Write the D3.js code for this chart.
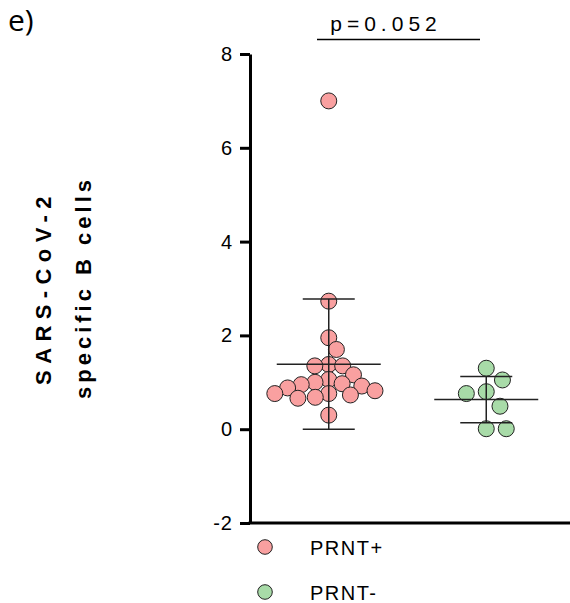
<!DOCTYPE html>
<html>
<head>
<meta charset="utf-8">
<script src="https://cdn.jsdelivr.net/npm/d3@7"></script>
<style>
  html, body { margin: 0; padding: 0; background: #fff; }
  svg { display: block; }
  text { font-family: "Liberation Sans", Arial, sans-serif; fill: #000; }
</style>
</head>
<body>
<svg id="chart" width="570" height="603"></svg>
<script>
// Groups and per-subject values (SARS-CoV-2 specific B cells)
const groups = ["PRNT+", "PRNT-"];
const prntPos = [7.0, 2.73, 1.95, 1.70, 1.38, 1.35, 1.35, 1.16, 1.06, 1.00, 0.97,
                 0.95, 0.92, 0.88, 0.82, 0.76, 0.76, 0.73, 0.68, 0.66, 0.30];
const prntNeg = [1.30, 1.05, 0.80, 0.76, 0.49, 0.01, 0.01];
const groupValues = [prntPos, prntNeg];
const groupColors = ["#f9a0a0", "#a8dba8"];
const yTicks = [-2, 0, 2, 4, 6, 8];
const yTitle = ["SARS-CoV-2", "specific B cells"];
const pValueText = "p=0.052";
const panelLabel = "e)";

const svg = d3.select("#chart");
const W = 570, H = 603;

const y = d3.scaleLinear().domain([-2, 8]).range([523, 54]);
const x = d3.scalePoint().domain(groups).range([250, 565]).padding(0.5);
const axisX = 250;

// Panel letter
svg.append("text")
  .attr("x", 8).attr("y", 31)
  .style("font-family", "'Open Sans', 'Noto Sans', sans-serif")
  .style("font-size", "30px")
  .text(panelLabel);

// Y axis title (two rotated lines)
const titleG = svg.append("g");
titleG.append("text")
  .attr("transform", `translate(51,${y(3) - 1}) rotate(-90)`)
  .attr("text-anchor", "middle")
  .style("font-weight", "bold").style("font-size", "22px")
  .style("letter-spacing", "6.4px")
  .text(yTitle[0]);
titleG.append("text")
  .attr("transform", `translate(91,${y(3) - 1}) rotate(-90)`)
  .attr("text-anchor", "middle")
  .style("font-weight", "bold").style("font-size", "22px")
  .style("letter-spacing", "4px")
  .text(yTitle[1]);

// Greedy beeswarm: place each point at the offset nearest the column centre
// that does not collide with points already placed.
function swarm(values, collide) {
  const pts = values.map((v, i) => ({ v, i, py: y(v), dx: 0 }))
    .sort((a, b) => b.v - a.v);
  const placed = [];
  for (const p of pts) {
    const near = placed.filter(q => Math.abs(q.py - p.py) < collide);
    const cands = [0];
    near.forEach(q => {
      const r = Math.sqrt(collide * collide - (q.py - p.py) ** 2);
      cands.push(q.dx - r, q.dx + r);
    });
    cands.sort((a, b) => Math.abs(a) - Math.abs(b) || b - a);
    for (const c of cands) {
      const ok = near.every(q => {
        const r = Math.sqrt(collide * collide - (q.py - p.py) ** 2);
        return Math.abs(c - q.dx) >= r - 1e-6;
      });
      if (ok) { p.dx = c; break; }
    }
    placed.push(p);
  }
  return pts;
}

const R = 8;
groupValues.forEach((vals, gi) => {
  const cx = x(groups[gi]);
  const pts = swarm(vals, gi === 0 ? 14 : 20);
  svg.append("g").selectAll("circle")
    .data(pts).join("circle")
    .attr("cx", d => cx + d.dx)
    .attr("cy", d => d.py)
    .attr("r", R)
    .attr("fill", groupColors[gi])
    .attr("stroke", "#222")
    .attr("stroke-width", 1);
});

// Mean ± SD bars, drawn over the points
groupValues.forEach((vals, gi) => {
  const cx = x(groups[gi]);
  const m = d3.mean(vals), sd = d3.deviation(vals);
  const g = svg.append("g").attr("stroke", "#222").attr("stroke-width", 1.5);
  g.append("line").attr("x1", cx - 52).attr("x2", cx + 52).attr("y1", y(m)).attr("y2", y(m));
  g.append("line").attr("x1", cx).attr("x2", cx).attr("y1", y(m - sd)).attr("y2", y(m + sd));
  g.append("line").attr("x1", cx - 26).attr("x2", cx + 26).attr("y1", y(m + sd)).attr("y2", y(m + sd));
  g.append("line").attr("x1", cx - 26).attr("x2", cx + 26).attr("y1", y(m - sd)).attr("y2", y(m - sd));
});

// Y axis
const yAxis = d3.axisLeft(y).tickValues(yTicks).tickFormat(d => String(d))
  .tickSize(10).tickSizeOuter(0).tickPadding(7);
const ag = svg.append("g").attr("transform", `translate(${axisX},0)`).call(yAxis);
ag.select(".domain").attr("stroke", "#000").attr("stroke-width", 3);
ag.selectAll(".tick line").attr("stroke", "#000").attr("stroke-width", 3);
ag.selectAll(".tick text")
  .style("font-family", "'Liberation Sans', Arial, sans-serif")
  .style("font-size", "20px")
  .style("letter-spacing", "1px")
  .attr("fill", "#000");

// X axis baseline
svg.append("line")
  .attr("x1", axisX - 1.5).attr("x2", W)
  .attr("y1", y(-2)).attr("y2", y(-2))
  .attr("stroke", "#000").attr("stroke-width", 3);

// Significance bracket
svg.append("line")
  .attr("x1", 317).attr("x2", 480).attr("y1", 39.5).attr("y2", 39.5)
  .attr("stroke", "#000").attr("stroke-width", 1.5);
svg.append("text")
  .attr("x", 386).attr("y", 31)
  .attr("text-anchor", "middle")
  .style("font-size", "21px").style("letter-spacing", "5px")
  .text(pValueText);

// Legend
const lg = svg.append("g");
groups.forEach((gname, i) => {
  const ly = 547 + i * 45;
  lg.append("circle").attr("cx", 265).attr("cy", ly).attr("r", 7.3)
    .attr("fill", groupColors[i]).attr("stroke", "#222").attr("stroke-width", 1);
  lg.append("text").attr("x", 310).attr("y", ly + 7.5)
    .style("font-size", "20px").style("letter-spacing", "1.5px")
    .text(gname);
});
</script>
</body>
</html>
